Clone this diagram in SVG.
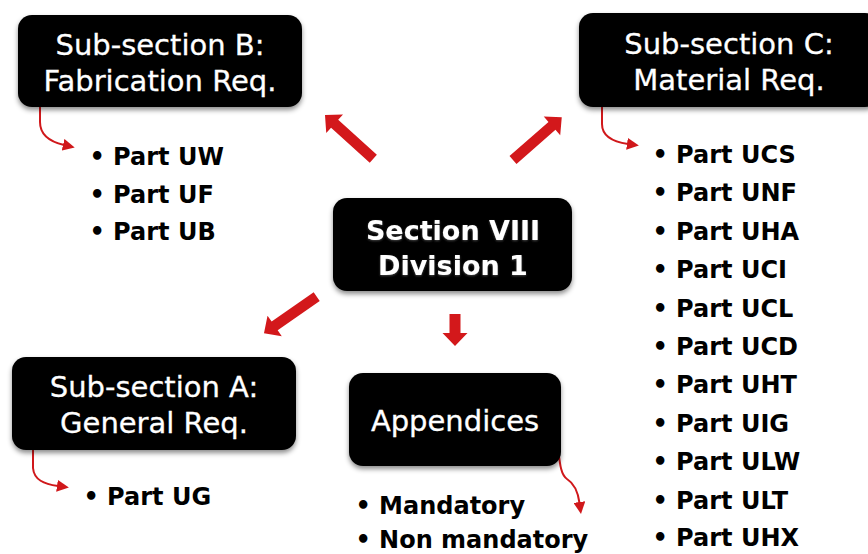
<svg xmlns="http://www.w3.org/2000/svg" width="868" height="554" viewBox="0 0 868 554">
  <defs>
    <filter id="shadow" x="-10%" y="-20%" width="120%" height="150%">
      <feDropShadow dx="0" dy="3" stdDeviation="2.5" flood-color="#000" flood-opacity="0.45"/>
    </filter>
    <filter id="tshadow" x="-5%" y="-20%" width="110%" height="150%">
      <feDropShadow dx="0" dy="1" stdDeviation="0.8" flood-color="#555" flood-opacity="0.8"/>
    </filter>
    <marker id="head" viewBox="0 0 12 12" refX="1" refY="6" markerWidth="12" markerHeight="12" markerUnits="userSpaceOnUse" orient="auto">
      <path d="M0,0 L12,6 L0,12 z" fill="#d0181b"/>
    </marker>
  </defs>
  <style>
    .box { fill: #000; filter: url(#shadow); }
    .btxt { font-family: "DejaVu Sans", "Liberation Sans", sans-serif; font-size: 29px; fill: #fff; text-anchor: middle; stroke: #fff; stroke-width: 0.3px; }
    .mtxt { font-family: "DejaVu Sans", "Liberation Sans", sans-serif; font-size: 27px; font-weight: bold; fill: #fff; text-anchor: middle; filter: url(#tshadow); }
    .item { font-family: "DejaVu Sans", "Liberation Sans", sans-serif; font-size: 24px; font-weight: bold; fill: #000; }
    .thin { fill: none; stroke: #d0181b; stroke-width: 2; marker-end: url(#head); }
    .big { fill: #d3181b; }
  </style>
  <rect width="868" height="554" fill="#fff"/>

  <g id="connectors">
    <polygon class="big" transform="translate(373.3,158.8) rotate(-137.8)" points="0,-5.3 52.2,-5.3 52.2,-12.5 65.2,0 52.2,12.5 52.2,5.3 0,5.3"/>
    <polygon class="big" transform="translate(513,160) rotate(-41.2)" points="0,-5.3 51.8,-5.3 51.8,-12.5 64.8,0 51.8,12.5 51.8,5.3 0,5.3"/>
    <polygon class="big" transform="translate(316.7,296.7) rotate(145.2)" points="0,-5.3 51.2,-5.3 51.2,-12.5 64.2,0 51.2,12.5 51.2,5.3 0,5.3"/>
    <polygon class="big" transform="translate(455,314) rotate(90)" points="0,-5.5 19,-5.5 19,-12.5 32,0 19,12.5 19,5.5 0,5.5"/>
    <path class="thin" d="M40,107 V122 C40,136 51,142 64,145"/>
    <path class="thin" d="M602,107 V124 C602,137 614,142 628,144"/>
    <path class="thin" d="M33,450 V468 C34,480 44,484 58,486"/>
    <path class="thin" d="M558,448 C560,465 561,475 567,479 C575,484 578,492 579.5,503"/>
  </g>

  <g id="section-viii">
    <rect class="box" x="333" y="198" width="239" height="93" rx="14"/>
    <text class="mtxt" x="453" y="240">Section VIII</text>
    <text class="mtxt" x="453" y="275">Division 1</text>
  </g>

  <g id="subsection-b">
    <rect class="box" x="18" y="15" width="284" height="92" rx="14"/>
    <text class="btxt" x="160" y="55">Sub-section B:</text>
    <text class="btxt" x="160" y="91">Fabrication Req.</text>
  </g>
  <g id="list-b">
    <text class="item" x="89.4" y="165">• Part UW</text>
    <text class="item" x="89.4" y="203">• Part UF</text>
    <text class="item" x="89.4" y="240">• Part UB</text>
  </g>

  <g id="subsection-c">
    <rect class="box" x="579" y="13" width="300" height="94" rx="14"/>
    <text class="btxt" x="729" y="54">Sub-section C:</text>
    <text class="btxt" x="729" y="90">Material Req.</text>
  </g>
  <g id="list-c">
    <text class="item" x="652.4" y="163">• Part UCS</text>
    <text class="item" x="652.4" y="201.4">• Part UNF</text>
    <text class="item" x="652.4" y="239.8">• Part UHA</text>
    <text class="item" x="652.4" y="278.2">• Part UCI</text>
    <text class="item" x="652.4" y="316.6">• Part UCL</text>
    <text class="item" x="652.4" y="355">• Part UCD</text>
    <text class="item" x="652.4" y="393.4">• Part UHT</text>
    <text class="item" x="652.4" y="431.8">• Part UIG</text>
    <text class="item" x="652.4" y="470.2">• Part ULW</text>
    <text class="item" x="652.4" y="508.6">• Part ULT</text>
    <text class="item" x="652.4" y="546">• Part UHX</text>
  </g>

  <g id="subsection-a">
    <rect class="box" x="12" y="357" width="284" height="93" rx="14"/>
    <text class="btxt" x="154" y="397">Sub-section A:</text>
    <text class="btxt" x="154" y="433">General Req.</text>
  </g>
  <g id="list-a">
    <text class="item" x="83.4" y="505">• Part UG</text>
  </g>

  <g id="appendices">
    <rect class="box" x="349" y="373" width="212" height="93" rx="14"/>
    <text class="btxt" x="455" y="431">Appendices</text>
  </g>
  <g id="list-appendices">
    <text class="item" x="355.4" y="514">• Mandatory</text>
    <text class="item" x="355.4" y="547.5">• Non mandatory</text>
  </g>
</svg>
